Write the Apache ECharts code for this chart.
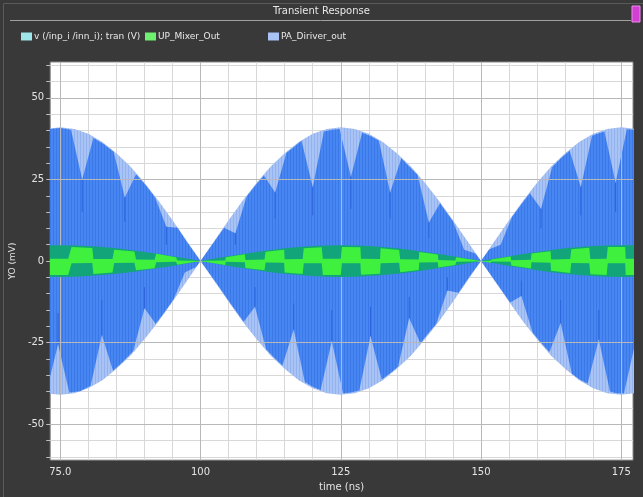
<!DOCTYPE html>
<html>
<head>
<meta charset="utf-8">
<title>Transient Response</title>
<script src="https://cdn.jsdelivr.net/npm/echarts@6/dist/echarts.min.js"></script>
<style>
  html, body { margin: 0; padding: 0; background: #393939; }
  #chart { width: 643px; height: 497px; }
</style>
</head>
<body>
<div id="chart"></div>
<script>
// ---- axis ticks and labels ----
const xMinorTicks = [75, 80, 85, 90, 95, 100, 105, 110, 115, 120, 125, 130, 135, 140, 145, 150, 155, 160, 165, 170, 175];
const xLabelValues = [75, 100, 125, 150, 175];
const xTickLabels = ['75.0', '100', '125', '150', '175'];
const yMinorTicks = [-60, -55, -50, -45, -40, -35, -30, -25, -20, -15, -10, -5, 0, 5, 10, 15, 20, 25, 30, 35, 40, 45, 50, 55, 60];
const yLabelValues = [-50, -25, 0, 25, 50];
const yTickLabels = ['-50', '-25', '0', '25', '50'];

// ---- signal envelopes, [time (ns), level (mV)] ----
// outer envelope of the carrier (symmetric around 0)
const carrierEnvelope = [
  [72.5, 40.5], [75, 41], [77.5, 40.5], [80, 39], [82.5, 36.5], [85, 33], [87.5, 29], [90, 24],
  [92.5, 18.5], [95, 12.5], [97.5, 6.3], [100, 0], [102.5, 6.3], [105, 12.5], [107.5, 18.5],
  [110, 24], [112.5, 29], [115, 33], [117.5, 36.5], [120, 39], [122.5, 40.5], [125, 41],
  [127.5, 40.5], [130, 39], [132.5, 36.5], [135, 33], [137.5, 29], [140, 24], [142.5, 18.5],
  [145, 12.5], [147.5, 6.3], [150, 0], [152.5, 6.3], [155, 12.5], [157.5, 18.5], [160, 24],
  [162.5, 29], [165, 33], [167.5, 36.5], [170, 39], [172.5, 40.5], [175, 41], [177.5, 40.5]
];

// PA_Diriver_out upper envelope
const paTop = [
  [72.5, 40.3], [75, 40.8],
  [76.9, 40.2], [78.9, 25], [80.9, 37.7],
  [82.7, 35.9],
  [84.5, 33.5], [86.5, 19.5], [88.5, 26.6],
  [90.2, 23.3],
  [91.9, 19.5], [93.9, 10.5], [95.9, 10.2],
  [97.5, 6], [100, 0],
  [102.7, 6.5],
  [104.2, 10.2], [106.2, 8.5], [108.2, 19.7],
  [109.8, 23.2],
  [111.3, 26.2], [113.3, 21], [115.3, 33.1],
  [116.6, 34.9],
  [118, 36.9], [120, 22.7], [122, 39.7],
  [123.4, 40.2],
  [124.8, 40.5], [126.8, 25.8], [128.8, 39.3],
  [130.3, 38.3],
  [131.8, 36.9], [133.8, 21], [135.8, 31.5],
  [137.2, 29],
  [138.7, 26.4], [140.7, 11.8], [142.7, 17.7],
  [144, 14.6],
  [145, 12.2], [147, 3.5], [149, 2.3],
  [150, 0],
  [151.5, 3.6], [153.5, 5], [155.5, 13.4],
  [157.1, 17.2],
  [158.7, 20.8], [160.7, 16], [162.7, 28.8],
  [164.2, 31.4],
  [165.8, 33.8], [167.8, 22.7], [169.8, 38.4],
  [170.9, 39.1],
  [172, 39.7], [174, 24], [176, 40.4],
  [177.5, 40.2]
];

// PA_Diriver_out lower envelope
const paBottom = [
  [72.5, -40.1], [74.6, -25.5], [76.6, -40.3],
  [78.5, -39.9],
  [80.4, -38.2], [82.4, -22.7], [84.4, -33.6],
  [86.2, -30.8],
  [88, -27.6], [90, -14.5], [92, -19.2],
  [93.6, -15.6],
  [95.2, -11.7], [97.2, -3.5], [99.2, -1.8],
  [100, 0],
  [102.7, -6.4], [105.5, -13.4],
  [107.7, -18.6], [109.7, -14], [111.7, -27],
  [113.2, -29.7],
  [114.6, -32], [116.6, -21], [118.6, -37.1],
  [120, -38.5],
  [121.4, -39.5], [123.4, -24.5], [125.4, -40.5],
  [126.8, -40.3],
  [128.3, -39.7], [130.3, -23], [132.3, -36.3],
  [133.8, -34.4],
  [135.2, -32.4], [137.2, -17.5], [139.2, -25.2],
  [140.6, -22.1],
  [142, -19.3], [144, -9], [146, -9.7],
  [148, -4.6], [150, 0],
  [153.5, -8.5],
  [155.2, -12.7], [157.2, -10.7], [159.2, -21.9],
  [160.7, -25],
  [162.2, -27.9], [164.2, -19], [166.2, -34.5],
  [167.6, -36.3],
  [169, -37.5], [171, -24], [173, -40],
  [174.2, -40.5],
  [175.5, -40.5], [177.5, -25]
];

// narrow notches that run on from the envelope dips, [time, from, to]
const paNotches = [
  [78.9, 25, 15], [86.5, 19.5, 12], [93.9, 10.5, 5],
  [74.6, -25.5, -16], [82.4, -22.7, -12], [90, -14.5, -8],
  [106.2, 8.5, 5], [113.3, 21, 13], [120, 22.7, 14], [126.8, 25.8, 16], [133.8, 21, 13], [140.7, 11.8, 7],
  [109.7, -14, -8], [116.6, -21, -13], [123.4, -24.5, -15], [130.3, -23, -14], [137.2, -17.5, -11], [144, -9, -5],
  [160.7, 16, 10], [167.8, 22.7, 14], [174, 24, 15],
  [157.2, -10.7, -6], [164.2, -19, -12], [171, -24, -15]
];

// input envelope (symmetric around 0)
const inputEnvelope = [
  [72.5, 4.8], [75, 4.85], [77.5, 4.8], [80, 4.6], [82.5, 4.3], [85, 3.9], [87.5, 3.4], [90, 2.8],
  [92.5, 2.15], [95, 1.5], [97.5, 0.75], [100, 0], [102.5, 0.75], [105, 1.5], [107.5, 2.15],
  [110, 2.8], [112.5, 3.4], [115, 3.9], [117.5, 4.3], [120, 4.6], [122.5, 4.8], [125, 4.85],
  [127.5, 4.8], [130, 4.6], [132.5, 4.3], [135, 3.9], [137.5, 3.4], [140, 2.8], [142.5, 2.15],
  [145, 1.5], [147.5, 0.75], [150, 0], [152.5, 0.75], [155, 1.5], [157.5, 2.15], [160, 2.8],
  [162.5, 3.4], [165, 3.9], [167.5, 4.3], [170, 4.6], [172.5, 4.8], [175, 4.85], [177.5, 4.8]
];

// UP_Mixer_Out, [time, high, low]
const mixerBand = [
  [72.5, 4.3, -0.7], [72.7, 4.3, -0.7], [72.8, 0.7, -4.3], [76.4, 0.7, -4.3], [77.0, 4.3, -0.7],
  [80.7, 4.0, -0.6], [80.9, 0.6, -4.0], [84.3, 0.6, -3.5], [84.6, 3.5, -0.6], [88.2, 2.9, -0.5],
  [88.5, 0.5, -2.8], [91.8, 0.4, -2.2], [92.1, 2.2, -0.4], [95.6, 1.2, -0.2], [95.9, 0.2, -1.15],
  [98.5, 0.1, -0.4], [100, 0, 0],
  [101, 0.1, -0.3], [104.4, 0.2, -1.2], [104.5, 1.2, -0.2], [107.9, 2.1, -0.35], [108.0, 0.35, -2.1],
  [111.4, 0.45, -2.85], [111.6, 2.85, -0.45], [114.9, 3.5, -0.55], [115.0, 0.55, -3.5],
  [118.2, 0.65, -3.95], [118.4, 3.95, -0.65], [121.6, 4.25, -0.7], [121.8, 0.7, -4.25],
  [125.0, 0.7, -4.3], [125.2, 4.3, -0.7], [128.5, 4.2, -0.7], [128.6, 0.7, -4.2],
  [132.0, 0.65, -3.9], [132.1, 3.9, -0.65], [135.4, 3.4, -0.55], [135.6, 0.55, -3.4],
  [138.9, 0.45, -2.75], [139.0, 2.75, -0.45], [142.3, 2.0, -0.35], [142.4, 0.35, -2.0],
  [145.4, 0.2, -1.2], [145.6, 1.2, -0.2], [148.5, 0.4, -0.1], [150, 0, 0],
  [151.7, 0.1, -0.5], [151.9, 0.5, -0.1], [155.3, 1.4, -0.25], [155.4, 0.25, -1.4],
  [158.9, 0.4, -2.3], [159.0, 2.3, -0.4], [162.4, 3.0, -0.5], [162.5, 0.5, -3.0],
  [165.9, 0.6, -3.65], [166.1, 3.65, -0.6], [169.3, 4.05, -0.65], [169.5, 0.65, -4.05],
  [172.4, 0.7, -4.3], [172.6, 4.3, -0.7], [175.7, 4.3, -0.7], [175.8, 0.7, -4.3], [177.5, 0.7, -4.3]
];

const names = {
  input: 'v (/inp_i /inn_i); tran (V)',
  mixer: 'UP_Mixer_Out',
  pa: 'PA_Diriver_out'
};

// fine vertical hatch that imitates the dense carrier cycles
function hatch(base, line) {
  const c = document.createElement('canvas');
  c.width = 3; c.height = 4;
  const g = c.getContext('2d');
  g.fillStyle = base; g.fillRect(0, 0, 3, 4);
  g.fillStyle = line; g.fillRect(2, 0, 1, 4);
  return { image: c, repeat: 'repeat' };
}

// a filled band between an upper and a lower trace
function band(name, upper, lower, fill, z) {
  return {
    type: 'custom', name: name, coordinateSystem: 'cartesian2d', clip: true, silent: true, z: z,
    data: upper.map(p => [p[0], p[1]]),
    encode: { x: 0, y: 1 },
    renderItem: function (params, api) {
      if (params.dataIndex !== 0) return null;
      const pts = upper.map(p => api.coord([p[0], p[1]]))
        .concat(lower.slice().reverse().map(p => api.coord([p[0], p[1]])));
      return { type: 'polygon', shape: { points: pts }, style: { fill: fill } };
    }
  };
}

const neg = arr => arr.map(p => [p[0], -p[1]]);

const chart = echarts.init(document.getElementById('chart'), null, { renderer: 'canvas' });

const axisText = { color: '#e4e4e4', fontSize: 10, fontFamily: 'DejaVu Sans' };

chart.setOption({
  backgroundColor: '#393939',
  animation: false,
  grid: {
    left: 45, right: 10, top: 62, bottom: 34,
    show: true, backgroundColor: '#ffffff', borderColor: '#8a8a8a', borderWidth: 1
  },
  legend: [
    { left: 21, top: 32, data: [{ name: names.input, itemStyle: { color: '#9fe6ea' } }] },
    { left: 145, top: 32, data: [{ name: names.mixer, itemStyle: { color: '#6ff06f' } }] },
    { left: 268, top: 32, data: [{ name: names.pa, itemStyle: { color: '#a9c3f5' } }] }
  ].map(l => Object.assign(l, {
    icon: 'rect', itemWidth: 11, itemHeight: 8, itemGap: 0, padding: 0,
    selectedMode: false,
    textStyle: { color: '#e8e8e8', fontSize: 9, fontFamily: 'DejaVu Sans', padding: [0, 0, 0, -3] }
  })),
  xAxis: {
    type: 'value', min: 73.2, max: 177.1,
    name: 'time (ns)', nameLocation: 'middle', nameGap: 21,
    nameTextStyle: axisText,
    axisLine: { show: false },
    axisTick: { show: true, customValues: xMinorTicks, length: 4, lineStyle: { color: '#bdbdbd' } },
    axisLabel: Object.assign({
      customValues: xLabelValues, margin: 7,
      formatter: v => xTickLabels[xLabelValues.indexOf(v)]
    }, axisText),
    splitLine: { show: true, lineStyle: { color: '#d8d8d8', width: 1 } }
  },
  yAxis: {
    type: 'value', min: -61, max: 61,
    name: 'YO (mV)', nameLocation: 'middle', nameGap: 19, nameRotate: 90,
    nameTextStyle: Object.assign({}, axisText, { fontSize: 9 }),
    axisLine: { show: false },
    axisTick: { show: true, customValues: yMinorTicks, length: 4, lineStyle: { color: '#bdbdbd' } },
    axisLabel: Object.assign({
      customValues: yLabelValues, margin: 6,
      formatter: v => yTickLabels[yLabelValues.indexOf(v)]
    }, axisText),
    splitLine: { show: true, lineStyle: { color: '#d8d8d8', width: 1 } }
  },
  series: [
    // heavier grid lines at the labelled values
    {
      type: 'line', data: [], z: 1, silent: true,
      markLine: {
        symbol: 'none', silent: true, label: { show: false },
        lineStyle: { color: '#b8b8b8', type: 'solid', width: 1 },
        data: xLabelValues.map(v => ({ xAxis: v })).concat(yLabelValues.map(v => ({ yAxis: v })))
      }
    },
    Object.assign(band(names.pa, carrierEnvelope, neg(carrierEnvelope), hatch('#a8c3f4', '#93b3f0'), 2),
      { itemStyle: { color: '#a9c3f5' } }),
    band(names.pa, paTop, paBottom, hatch('#4886f1', '#3a78ea'), 3),
    {
      type: 'custom', name: names.pa, coordinateSystem: 'cartesian2d', clip: true, silent: true, z: 4,
      data: paNotches, encode: { x: 0, y: [1, 2] },
      renderItem: function (params, api) {
        const a = api.coord([api.value(0), api.value(1)]);
        const b = api.coord([api.value(0), api.value(2)]);
        return { type: 'line', shape: { x1: a[0], y1: a[1], x2: b[0], y2: b[1] },
                 style: { stroke: '#2d63dc', lineWidth: 1 } };
      }
    },
    Object.assign(band(names.input, inputEnvelope, neg(inputEnvelope), '#13a57a', 5),
      { itemStyle: { color: '#9fe6ea' } }),
    Object.assign(band(names.mixer, mixerBand.map(r => [r[0], r[1]]), mixerBand.map(r => [r[0], r[2]]), '#3ff03f', 6),
      { itemStyle: { color: '#6ff06f' } })
  ],
  graphic: [
    { type: 'rect', left: 1, top: 1, shape: { width: 640, height: 494 }, style: { fill: 'none', stroke: '#5a5a5a', lineWidth: 1 }, silent: true },
    { type: 'text', left: 'center', top: 6, style: { text: 'Transient Response', fill: '#e8e8e8', font: '10px "DejaVu Sans"' } },
    { type: 'line', shape: { x1: 10, y1: 20.5, x2: 631, y2: 20.5 }, style: { stroke: '#a0a0a0', lineWidth: 1 } },
    { type: 'rect', shape: { x: 632, y: 6, width: 8, height: 16 }, style: { fill: '#d23fd2', stroke: '#f08af0', lineWidth: 1 } }
  ]
});
</script>
</body>
</html>
